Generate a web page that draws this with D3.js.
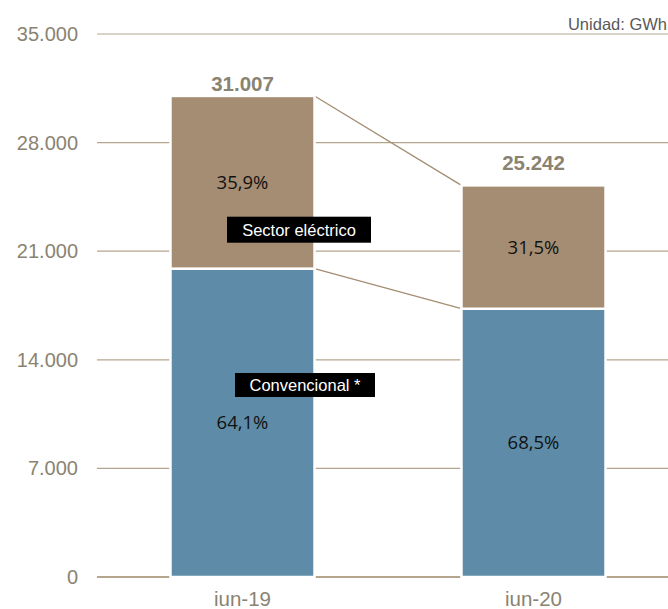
<!DOCTYPE html>
<html><head><meta charset="utf-8">
<script src="https://cdn.jsdelivr.net/npm/d3@7"></script>
<style>body{margin:0;background:#fff}svg{display:block}</style>
</head><body>
<script>
// ---- data ----
const categories = ["iun-19", "iun-20"];
const convencional = [19875, 17291];
const sectorElectrico = [11132, 7951];
const shareConvencional = ["64,1%", "68,5%"];
const shareElectrico = ["35,9%", "31,5%"];
const yTicks = [0, 7000, 14000, 21000, 28000, 35000];
const seriesNames = ["Sector eléctrico", "Convencional *"];
const unitLabel = "Unidad: GWh";

// ---- layout ----
const W = 668, H = 609;
const totalLabelDy = [5, 15];
const cTan = "#a58d73", cBlue = "#5e8ca8", cGrid = "#b5a58d", cText = "#8a8372";

const svg = d3.select("body").append("svg").attr("width", W).attr("height", H);
const y = d3.scaleLinear().domain([0, 35000]).range([577, 34]);
const x = d3.scaleBand().domain(categories).range([97, 679]).paddingInner(0.505).paddingOuter(0.2525);
const loc = d3.formatLocale({decimal: ",", thousands: ".", grouping: [3], currency: ["", "€"]});
const fmt = loc.format(",d");

// gridlines
svg.append("g").selectAll("line").data(yTicks).join("line")
  .attr("x1", 97).attr("x2", W).attr("y1", d => y(d)).attr("y2", d => y(d))
  .attr("stroke", cGrid).attr("stroke-width", d => d === 0 ? 2 : 1.2);

// y axis labels
const yAxis = d3.axisLeft(y).tickValues(yTicks).tickFormat(d => fmt(d)).tickSize(0).tickPadding(0);
const ga = svg.append("g").attr("transform", "translate(78,0)").call(yAxis);
ga.select(".domain").remove();
ga.selectAll("text").attr("font-family", "Liberation Sans, Arial, sans-serif").attr("font-size", 20).attr("fill", cText);

// unit
svg.append("text").attr("x", 667).attr("y", 30).attr("text-anchor", "end")
  .attr("font-family", "Liberation Sans, Arial, sans-serif").attr("font-size", 16.5).attr("fill", "#595959").text(unitLabel);

// stacked data
const rows = categories.map((c, i) => ({cat: c, conv: convencional[i], elec: sectorElectrico[i]}));
const stack = d3.stack().keys(["conv", "elec"])(rows);
const colors = {conv: cBlue, elec: cTan};

// connectors
const x0 = x(categories[0]) + x.bandwidth(), x1 = x(categories[1]);
svg.append("g").selectAll("line").data(["conv", "elec"]).join("line")
  .attr("x1", x0).attr("x2", x1)
  .attr("y1", k => y(stack.find(s => s.key === k)[0][1]))
  .attr("y2", k => y(stack.find(s => s.key === k)[1][1]))
  .attr("stroke", cTan).attr("stroke-width", 1.3);

// bars
svg.append("g").selectAll("g").data(stack).join("g").attr("fill", s => colors[s.key])
  .selectAll("rect").data(s => s).join("rect")
  .attr("x", d => x(d.data.cat)).attr("width", x.bandwidth())
  .attr("y", d => y(d[1])).attr("height", d => y(d[0]) - y(d[1]))
  .attr("stroke", "#fff").attr("stroke-width", 2.5);

// share labels
const shares = {conv: shareConvencional, elec: shareElectrico};
stack.forEach(s => {
  svg.append("g").selectAll("text").data(s).join("text")
    .attr("x", d => x(d.data.cat) + x.bandwidth() / 2)
    .attr("y", d => (y(d[0]) + y(d[1])) / 2)
    .attr("dy", "0.35em").attr("text-anchor", "middle")
    .attr("font-family", "Open Sans, Noto Sans, sans-serif").attr("font-size", 18.5).attr("fill", "#111")
    .text((d, i) => shares[s.key][i]);
});

// totals
svg.append("g").selectAll("text").data(rows).join("text")
  .attr("x", d => x(d.cat) + x.bandwidth() / 2)
  .attr("y", (d, i) => y(d.conv + d.elec) - totalLabelDy[i])
  .attr("text-anchor", "middle").attr("font-family", "Liberation Sans, Arial, sans-serif")
  .attr("font-weight", "bold").attr("font-size", 20.5).attr("fill", cText)
  .text(d => fmt(d.conv + d.elec));

// category labels
svg.append("g").selectAll("text").data(categories).join("text")
  .attr("x", d => x(d) + x.bandwidth() / 2).attr("y", 606).attr("text-anchor", "middle")
  .attr("font-family", "Liberation Sans, Arial, sans-serif").attr("font-size", 20.5).attr("fill", cText)
  .text(d => d);

// series labels (black boxes)
const boxes = [
  {name: seriesNames[0], cx: 299, cy: 229.7, w: 144, h: 26},
  {name: seriesNames[1], cx: 305, cy: 385, w: 140, h: 24}
];
const bg = svg.append("g").selectAll("g").data(boxes).join("g");
bg.append("rect").attr("x", d => d.cx - d.w / 2).attr("y", d => d.cy - d.h / 2)
  .attr("width", d => d.w).attr("height", d => d.h).attr("fill", "#000");
bg.append("text").attr("x", d => d.cx).attr("y", d => d.cy).attr("dy", "0.36em")
  .attr("text-anchor", "middle").attr("font-family", "Liberation Sans, Arial, sans-serif")
  .attr("font-size", 16.5).attr("fill", "#fff").text(d => d.name);
</script>
</body></html>
